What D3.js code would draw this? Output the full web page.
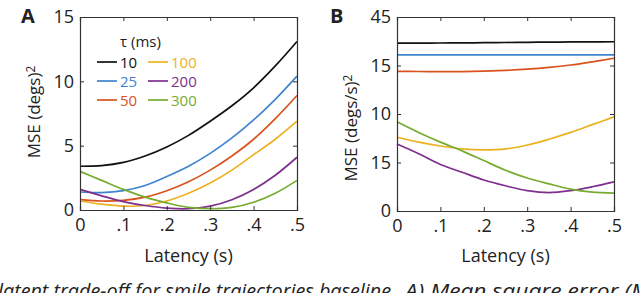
<!DOCTYPE html>
<html>
<head>
<meta charset="utf-8">
<script src="https://cdn.jsdelivr.net/npm/d3@7"></script>
<style>
  body { margin: 0; background: #fff; }
  svg { display: block; }
  text { font-family: "Open Sans", "Noto Sans", sans-serif; fill: #222; }
</style>
</head>
<body>
<svg id="chart" width="640" height="293"></svg>
<script>
// latency samples (s)
const latency = [0, 0.05, 0.1, 0.15, 0.2, 0.25, 0.3, 0.35, 0.4, 0.45, 0.5];
const taus = ["10", "25", "50", "100", "200", "300"];
const colors = ["#111111", "#3f84d1", "#d9531e", "#edb120", "#7e2f8e", "#77ac30"];

// panel A: MSE (degs)^2
const mseA10 = [3.4, 3.45, 3.7, 4.2, 4.9, 5.8, 6.9, 8.1, 9.5, 11.2, 13.1];
const mseA25 = [1.4, 1.35, 1.5, 1.9, 2.6, 3.4, 4.4, 5.6, 7.0, 8.6, 10.4];
const mseA50 = [0.8, 0.7, 0.75, 1.0, 1.5, 2.2, 3.1, 4.2, 5.5, 7.1, 8.9];
const mseA100 = [0.7, 0.45, 0.3, 0.35, 0.7, 1.3, 2.1, 3.1, 4.3, 5.5, 6.9];
const mseA200 = [1.6, 1.1, 0.65, 0.35, 0.15, 0.1, 0.3, 0.8, 1.6, 2.7, 4.1];
const mseA300 = [3.0, 2.3, 1.6, 1.0, 0.55, 0.2, 0.1, 0.2, 0.6, 1.3, 2.3];

// panel B: MSE (degs/s)^2
const mseB10 = [17.3, 17.31, 17.32, 17.33, 17.35, 17.37, 17.39, 17.41, 17.43, 17.44, 17.45];
const mseB25 = [16.1, 16.1, 16.1, 16.1, 16.1, 16.1, 16.1, 16.1, 16.1, 16.1, 16.1];
const mseB50 = [14.4, 14.38, 14.36, 14.37, 14.42, 14.5, 14.62, 14.8, 15.05, 15.38, 15.75];
const mseB100 = [7.6, 7.1, 6.7, 6.4, 6.3, 6.4, 6.8, 7.4, 8.1, 8.9, 9.7];
const mseB200 = [6.9, 5.9, 4.8, 4.0, 3.2, 2.6, 2.1, 1.9, 2.1, 2.5, 3.0];
const mseB300 = [9.2, 8.1, 7.1, 6.2, 5.2, 4.2, 3.4, 2.8, 2.25, 1.95, 1.85];

const xTicks = [0, 0.1, 0.2, 0.3, 0.4, 0.5];
const xTickLabels = ["0", ".1", ".2", ".3", ".4", ".5"];
const yTicksA = [0, 5, 10, 15];
const yTickLabelsA = ["0", "5", "10", "15"];
const yTicksB = [0, 5, 10, 15, 20];
const yTickLabelsB = ["0", "15", "10", "15", "45"];

// caption below the figure, only its top shows
const captionLeft = "latent trade-off for smile trajectories baseline.";
const captionRight = "A) Mean square error (M";

const svg = d3.select("#chart");

function drawPanel(opt) {
  const x = d3.scaleLinear().domain([0, 0.5]).range([opt.left, opt.right]);
  const y = d3.scaleLinear().domain(opt.yDomain).range([opt.bottom, opt.top]);
  const g = svg.append("g");

  // curves
  const line = d3.line()
    .x((d, i) => x(latency[i]))
    .y(d => y(d))
    .curve(d3.curveCatmullRom);
  opt.series.forEach((s, i) => {
    g.append("path")
      .attr("d", line(s))
      .attr("fill", "none")
      .attr("stroke", colors[i])
      .attr("stroke-width", 1.7);
  });

  // box axes, ticks inward
  const axisCol = "#333";
  const bottom = d3.axisBottom(x).tickValues(xTicks).tickSize(-4)
    .tickFormat((d, i) => xTickLabels[i]).tickPadding(8);
  const top = d3.axisTop(x).tickValues(xTicks).tickSize(-4).tickFormat("");
  const left = d3.axisLeft(y).tickValues(opt.yTicks).tickSize(-4)
    .tickFormat((d, i) => opt.yLabels[i]).tickPadding(6);
  const right = d3.axisRight(y).tickValues(opt.yTicks).tickSize(-4).tickFormat("");

  const gb = g.append("g").attr("transform", `translate(0,${opt.bottom})`).call(bottom);
  const gt = g.append("g").attr("transform", `translate(0,${opt.top})`).call(top);
  const gl = g.append("g").attr("transform", `translate(${opt.left},0)`).call(left);
  const gr = g.append("g").attr("transform", `translate(${opt.right},0)`).call(right);
  [gb, gt, gl, gr].forEach(a => {
    a.select(".domain").attr("stroke", axisCol).attr("stroke-width", 1.2);
    a.selectAll(".tick line").attr("stroke", axisCol);
    a.selectAll(".tick text")
      .style("font-family", '"Open Sans", sans-serif')
      .style("font-size", "18px")
      .attr("fill", "#222");
  });
  gb.selectAll(".tick text").attr("dy", "0.72em");

  // panel letter
  g.append("text")
    .attr("x", opt.letterX).attr("y", 23)
    .style("font-size", "20px").style("font-weight", "bold")
    .text(opt.letter);

  // x title
  g.append("text")
    .attr("x", (opt.left + opt.right) / 2).attr("y", 262)
    .attr("text-anchor", "middle")
    .style("font-size", "18px")
    .text("Latency (s)");

  // y title
  const yt = g.append("text")
    .attr("transform", `translate(${opt.left - 40},${opt.yTitleY}) rotate(-90)`)
    .attr("text-anchor", "middle")
    .style("font-size", "17px");
  yt.append("tspan").text(opt.yTitle);
  yt.append("tspan").attr("dy", "-0.45em").style("font-size", "12px").text("2");

  return { x, y, g };
}

drawPanel({
  left: 80, right: 297, top: 17, bottom: 210,
  yDomain: [0, 15], yTicks: yTicksA, yLabels: yTickLabelsA,
  series: [mseA10, mseA25, mseA50, mseA100, mseA200, mseA300],
  letter: "A", letterX: 21, yTitle: "MSE (degs)", yTitleY: 112
});

drawPanel({
  left: 397, right: 614, top: 17, bottom: 211,
  yDomain: [0, 20], yTicks: yTicksB, yLabels: yTickLabelsB,
  series: [mseB10, mseB25, mseB50, mseB100, mseB200, mseB300],
  letter: "B", letterX: 330, yTitle: "MSE (degs/s)", yTitleY: 128
});

// legend
const lg = svg.append("g");
lg.append("text").attr("x", 120).attr("y", 47)
  .style("font-size", "15px").text("τ (ms)");
taus.forEach((t, i) => {
  const col = Math.floor(i / 3), row = i % 3;
  const lx = 97 + col * 51, ly = 62 + row * 19;
  lg.append("line")
    .attr("x1", lx).attr("x2", lx + 20)
    .attr("y1", ly).attr("y2", ly)
    .attr("stroke", colors[i]).attr("stroke-width", 1.7);
  lg.append("text")
    .attr("x", lx + 23).attr("y", ly + 5.5)
    .style("font-size", "15px")
    .style("fill", colors[i])
    .text(t);
});

// cut-off caption at the bottom
const cap = svg.append("g")
  .style("font-size", "20px").style("font-style", "italic");
cap.append("text")
  .attr("x", -2).attr("y", 298)
  .attr("textLength", 398).attr("lengthAdjust", "spacingAndGlyphs")
  .text(captionLeft);
cap.append("text")
  .attr("x", 405).attr("y", 298)
  .attr("textLength", 245).attr("lengthAdjust", "spacingAndGlyphs")
  .text(captionRight);
</script>
</body>
</html>
